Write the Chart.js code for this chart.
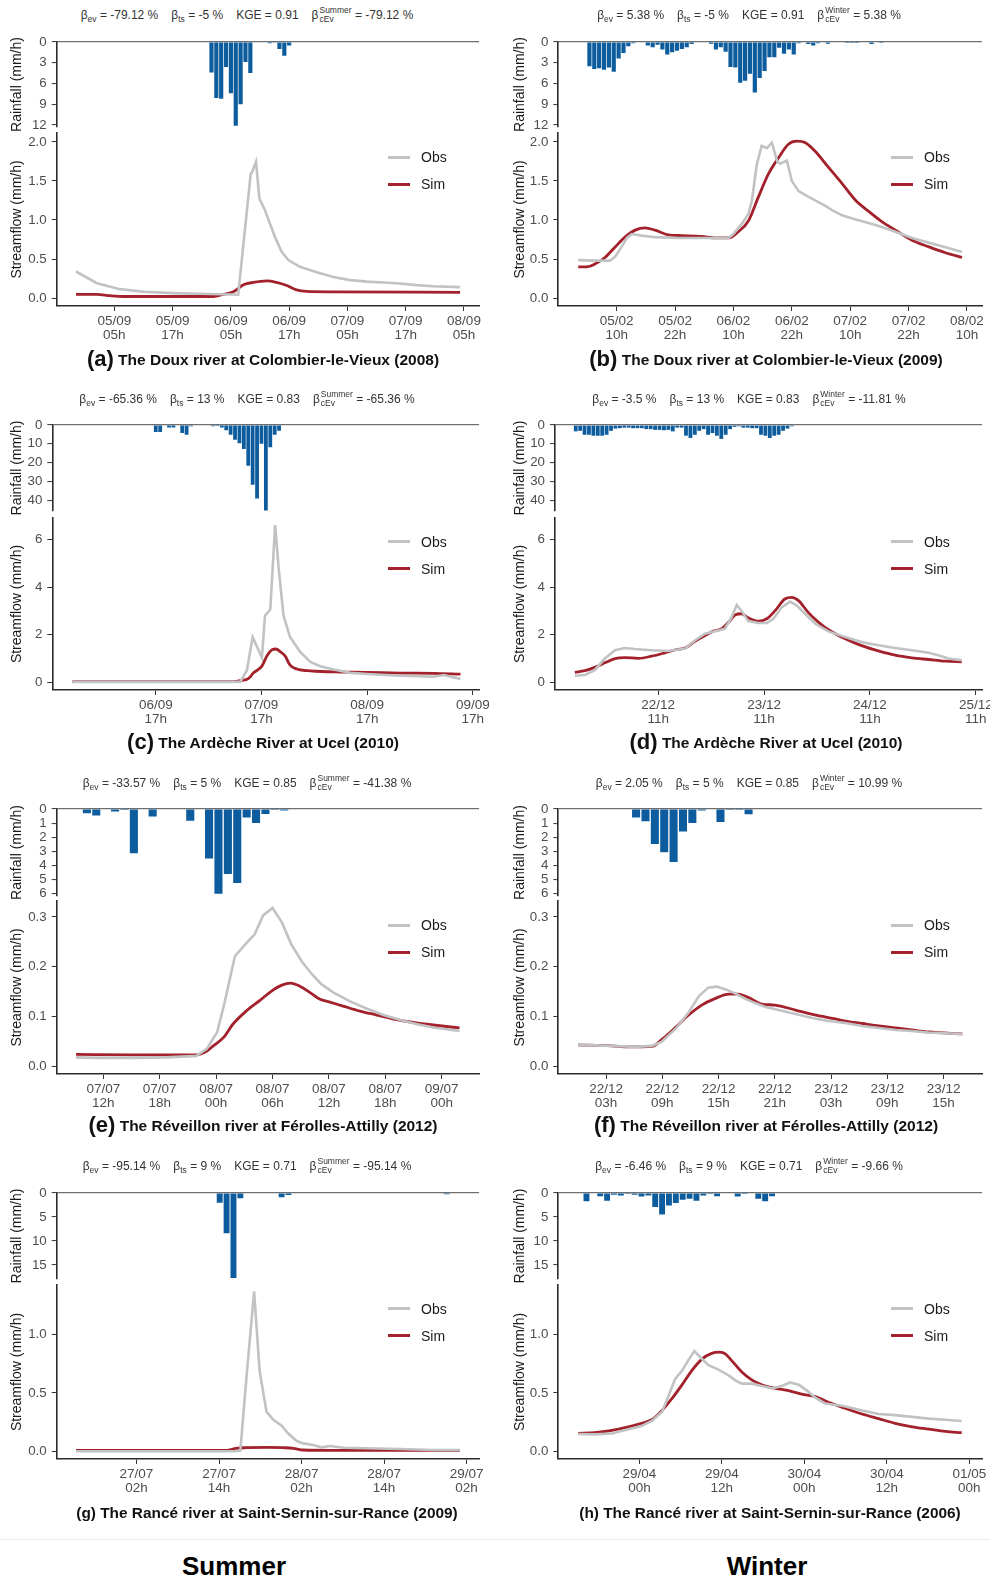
<!DOCTYPE html>
<html><head><meta charset="utf-8">
<script src="https://cdn.jsdelivr.net/npm/chart.js@4.4.1/dist/chart.umd.min.js"></script>
<style>
html,body{margin:0;padding:0;background:#fff}
#wrap{position:relative;width:990px;height:1582px;overflow:hidden;background:#fff;font-family:"Liberation Sans",Arial,sans-serif}
canvas{position:absolute}
.stats{position:absolute;transform:translate(-50%,-50%);font-size:12px;color:#333;white-space:nowrap;line-height:14px}
.stats .it{margin:0 6.5px}
.stats sub{font-size:8.5px;vertical-align:-3px;line-height:0}
.ss{display:inline-block;vertical-align:-3px;font-size:8.5px;line-height:9px;margin-left:1px;text-align:left}
.cap{position:absolute;transform:translate(-50%,-50%);white-space:nowrap;font-weight:bold;font-size:15.5px;color:#111;line-height:24px}
.cap .l{font-size:22px;vertical-align:-1px}
.cap2{position:absolute;transform:translate(-50%,-50%);white-space:nowrap;font-weight:bold;font-size:15.4px;color:#111}
.lg{position:absolute;font-size:14px;color:#1a1a1a;white-space:nowrap;transform:translateY(-50%);line-height:16px}
.lg i{display:inline-block;width:22px;height:3px;vertical-align:middle;margin-right:11px;position:relative;top:-1px}
.season{position:absolute;transform:translateX(-50%);font-weight:bold;font-size:26px;color:#000;white-space:nowrap}
.sep{position:absolute;left:0;width:990px;height:1px;background:#ebebeb}
</style>
</head><body><div id="wrap"></div>
<script>
// ===== DATA (time in hours from first labelled tick) =====
// (a) Doux at Colombier-le-Vieux, 2008
const ticksA = [["05/09","05h"],["05/09","17h"],["06/09","05h"],["06/09","17h"],["07/09","05h"],["07/09","17h"],["08/09","05h"]];
const rainStartA = 20;
const rainA = [4.4,8.1,8.2,3.6,7.4,12.1,9.0,2.9,4.5,0,0,0,0.2,0.1,1.0,2.0,0.5];
const obsA = [[-7.9,0.34],[-3.6,0.19],[1.2,0.114],[6.0,0.08],[12.1,0.063],[17.6,0.055],[24.0,0.045],[25.5,0.042],[28.07,1.586],[28.4,1.62],[29.17,1.746],[29.86,1.277],[31.0,1.129],[33.08,0.782],[34.45,0.592],[35.83,0.486],[38.2,0.40],[41.7,0.33],[45.1,0.27],[48.5,0.23],[52,0.21],[55.4,0.2],[58.8,0.186],[62.2,0.165],[65.7,0.152],[71.2,0.14]];
const simA = [[-7.9,0.047],[-3.6,0.047],[-0.9,0.03],[1.9,0.02],[20.4,0.02],[22.4,0.047],[24.5,0.08],[26.6,0.17],[28.6,0.2],[31.4,0.22],[33.4,0.2],[35.5,0.16],[37.5,0.105],[39.6,0.085],[45.1,0.08],[71.2,0.072]];
const statsA = ["-79.12","-5","0.91","Summer","-79.12"];

// (b) Doux at Colombier-le-Vieux, 2009
const ticksB = [["05/02","10h"],["05/02","22h"],["06/02","10h"],["06/02","22h"],["07/02","10h"],["07/02","22h"],["08/02","10h"]];
const rainStartB = -5.6;
const rainB = [3.5,3.9,3.8,4.0,3.7,4.3,2.4,1.6,0.6,0.2,0,0,0.5,0.75,0.4,1.1,1.8,1.5,1.25,1.0,0.75,0.3,0,0,0,0.25,1.1,0.75,1.4,3.6,3.7,5.9,5.6,4.6,7.3,5.2,4.2,2.2,2.2,0.85,1.7,1.1,1.8,0.2,0,0.3,0.5,0.2,0,0.25,0,0,0,0.15,0.15,0.15,0,0,0.3,0,0.15];
const obsB = [[-7.9,0.486],[-4.5,0.48],[-1.4,0.48],[-0.3,0.53],[1.0,0.655],[2.1,0.77],[3.1,0.82],[5.1,0.80],[7.9,0.78],[12.7,0.77],[18.9,0.77],[23.0,0.77],[24.0,0.82],[25.7,0.95],[27.1,1.08],[27.8,1.25],[28.8,1.71],[29.8,1.95],[30.9,1.92],[31.9,1.99],[33.0,1.75],[33.6,1.72],[35.0,1.76],[36.0,1.50],[37.4,1.37],[38.8,1.32],[40.8,1.25],[42.9,1.18],[44.2,1.13],[46.3,1.06],[49.0,1.01],[51.8,0.96],[54.5,0.91],[57.3,0.85],[60.7,0.77],[64.2,0.71],[67.6,0.65],[71.0,0.59]];
const simB = [[-7.9,0.40],[-6.2,0.40],[-4.5,0.435],[-2.4,0.52],[-0.3,0.655],[1.7,0.78],[3.8,0.87],[5.8,0.90],[7.9,0.87],[10.6,0.81],[13.4,0.80],[17.5,0.79],[20.2,0.77],[23.0,0.77],[25.0,0.85],[27.1,0.99],[29.1,1.29],[31.2,1.59],[33.3,1.80],[35.3,1.97],[37.0,2.01],[38.8,1.99],[40.8,1.88],[43.6,1.67],[46.3,1.47],[49.0,1.26],[51.8,1.11],[54.5,0.98],[57.3,0.87],[60.7,0.74],[64.2,0.655],[67.6,0.58],[71.0,0.52]];
const statsB = ["5.38","-5","0.91","Winter","5.38"];

// (c) Ardèche at Ucel, 2010 (summer)
const ticksC = [["06/09","17h"],["07/09","17h"],["08/09","17h"],["09/09","17h"]];
const rainStartC = 0;
const rainC = [3.7,3.7,0,1.4,1.4,0,4.3,5.2,0.7,0,0,0,0,0.7,0.5,1.4,2.8,5.2,7.8,9.7,12.7,21.7,31.8,39.1,10,45.4,11.8,5.2,3.1];
const obsC = [[-18.9,0.02],[19.2,0.02],[20.7,0.51],[22.0,1.9],[23.0,1.49],[24.1,1.04],[24.8,2.8],[26.0,3.06],[27.1,6.6],[27.9,4.8],[29.0,2.8],[30.5,1.9],[32.8,1.28],[35.1,0.86],[37.3,0.68],[40.4,0.54],[44.2,0.40],[48,0.35],[55.5,0.28],[63.1,0.24],[65.4,0.31],[67.7,0.21],[69.2,0.14]];
const simC = [[-18.9,0.03],[17.7,0.03],[19.2,0.07],[21.1,0.17],[22.2,0.40],[24.1,0.68],[25.2,1.10],[26.4,1.37],[27.3,1.40],[28.3,1.28],[29.4,1.10],[30.5,0.72],[32.0,0.56],[34.3,0.49],[40.4,0.44],[48.0,0.42],[55.5,0.39],[63.1,0.38],[69.2,0.35]];
const statsC = ["-65.36","13","0.83","Summer","-65.36"];

// (d) Ardèche at Ucel, 2010 (winter)
const ticksD = [["22/12","11h"],["23/12","11h"],["24/12","11h"],["25/12","11h"]];
const rainStartD = -18.7;
const rainD = [3.4,3.1,5.2,5.2,5.7,5.7,5.7,5.2,3.1,1.9,1.7,1.4,1.4,1.7,1.7,1.7,2.2,2.2,2.6,2.6,2.8,2.6,3.4,1.4,1.4,5.7,6.9,5.2,3.1,2.2,5.2,4.3,5.7,7.4,5.2,2.2,1.0,0.7,1.4,1.4,1.7,1.7,5.2,5.7,6.9,5.7,5.2,3.1,1.9,0.7];
const obsD = [[-18.9,0.28],[-16.6,0.31],[-14.4,0.51],[-12.1,1.0],[-9.8,1.35],[-7.6,1.44],[-5.3,1.40],[-1.5,1.35],[2.3,1.32],[6.1,1.42],[8.3,1.76],[10.6,2.04],[12.9,2.15],[15.1,2.25],[16.6,2.72],[17.8,3.25],[18.9,3.0],[20.4,2.57],[22.7,2.49],[24.6,2.49],[26.1,2.67],[28.0,3.15],[29.9,3.39],[31.4,3.22],[33.3,2.88],[35.6,2.46],[38.6,2.14],[42.4,1.9],[46.1,1.69],[49.9,1.56],[53.7,1.44],[57.5,1.35],[61.3,1.24],[63.5,1.14],[65.8,1.0],[68.8,0.93]];
const simD = [[-18.9,0.42],[-16.6,0.49],[-14.4,0.63],[-12.1,0.82],[-9.8,1.0],[-7.6,1.04],[-4.5,1.01],[-1.5,1.10],[1.5,1.24],[4.2,1.38],[6.1,1.44],[8.3,1.72],[10.6,1.97],[12.5,2.15],[14.4,2.25],[16.3,2.6],[17.4,2.83],[18.9,2.88],[20.4,2.71],[22.7,2.57],[24.6,2.67],[26.5,3.01],[28.7,3.5],[30.3,3.57],[31.8,3.43],[34.0,2.94],[36.3,2.53],[38.6,2.21],[42.4,1.83],[46.1,1.54],[49.9,1.32],[53.7,1.14],[57.5,1.03],[61.3,0.96],[65.1,0.89],[68.8,0.86]];
const statsD = ["-3.5","13","0.83","Winter","-11.81"];

// (e) Réveillon at Férolles-Attilly, 2012 (summer)
const ticksE = [["07/07","12h"],["07/07","18h"],["08/07","00h"],["08/07","06h"],["08/07","12h"],["08/07","18h"],["09/07","00h"]];
const rainStartE = -1.75;
const rainE = [0.3,0.46,0,0.18,0.07,3.13,0,0.53,0,0,0,0.83,0,3.5,6.0,4.6,5.24,0.6,1.0,0.35,0.07,0.1];
const obsE = [[-2.9,0.018],[-0.35,0.017],[3.2,0.017],[6.7,0.018],[9.9,0.021],[11.0,0.035],[12.1,0.068],[12.9,0.128],[14.0,0.221],[15.1,0.245],[16.1,0.265],[17.0,0.303],[18.0,0.318],[19.0,0.289],[20.0,0.245],[21.1,0.211],[22.2,0.185],[23.2,0.165],[24.5,0.148],[26.2,0.131],[28.0,0.116],[29.8,0.103],[31.6,0.093],[33.3,0.085],[35.1,0.078],[37.9,0.071]];
const simE = [[-2.9,0.024],[3.2,0.023],[9.9,0.023],[10.8,0.028],[11.7,0.041],[12.8,0.058],[13.8,0.085],[15.2,0.111],[16.7,0.133],[17.9,0.151],[19.0,0.163],[19.9,0.167],[20.9,0.161],[22.0,0.148],[23.0,0.135],[24.1,0.129],[25.5,0.121],[27.3,0.111],[29.1,0.103],[30.9,0.095],[33.0,0.088],[35.1,0.083],[37.9,0.077]];
const statsE = ["-33.57","5","0.85","Summer","-41.38"];

// (f) Réveillon at Férolles-Attilly, 2012 (winter)
const ticksF = [["22/12","03h"],["22/12","09h"],["22/12","15h"],["22/12","21h"],["23/12","03h"],["23/12","09h"],["23/12","15h"]];
const rainStartF = 3.2;
const rainF = [0.6,0.87,2.48,3.06,3.75,1.6,1.0,0.11,0,0.92,0.07,0.07,0.37];
const obsF = [[-3.0,0.043],[0.6,0.041],[3.1,0.039],[4.9,0.041],[5.9,0.049],[7.4,0.075],[8.8,0.108],[9.9,0.141],[10.9,0.158],[11.8,0.16],[12.7,0.155],[13.8,0.146],[14.8,0.136],[15.9,0.127],[17.0,0.119],[18.4,0.113],[20.2,0.105],[22.0,0.097],[23.7,0.091],[25.5,0.087],[27.3,0.081],[29.1,0.077],[30.9,0.073],[32.6,0.071],[34.4,0.068],[38.0,0.065]];
const simF = [[-3.0,0.043],[0.6,0.041],[2.4,0.039],[4.9,0.04],[5.9,0.053],[7.4,0.078],[8.8,0.103],[10.2,0.123],[11.6,0.136],[13.1,0.145],[14.1,0.145],[15.2,0.138],[16.6,0.125],[18.0,0.123],[20.2,0.113],[21.9,0.105],[23.7,0.098],[25.5,0.091],[27.3,0.086],[29.1,0.081],[30.9,0.077],[32.6,0.073],[34.4,0.069],[38.0,0.065]];
const statsF = ["2.05","5","0.85","Winter","10.99"];

// (g) Rancé at Saint-Sernin-sur-Rance, 2009 (summer)
const ticksG = [["27/07","02h"],["27/07","14h"],["28/07","02h"],["28/07","14h"],["29/07","02h"]];
const rainStartG = 12.1;
const rainG = [2.05,8.4,17.7,1.1,0,0,0,0,0,0.9,0.4,0,0,0,0,0,0,0,0,0,0,0,0,0,0,0,0,0,0,0,0,0,0,0.27];
const obsG = [[-8.8,0],[14.1,0],[15.1,0.006],[16.0,0.64],[17.1,1.37],[17.9,0.69],[18.9,0.34],[19.9,0.27],[21.1,0.22],[22.1,0.15],[23.3,0.088],[24.2,0.068],[25.7,0.054],[26.9,0.034],[28.1,0.045],[30.1,0.031],[33.4,0.026],[38.3,0.02],[43.1,0.011],[47.0,0.011]];
const simG = [[-8.8,0.008],[13.1,0.008],[14.5,0.026],[16.0,0.031],[18.9,0.034],[21.3,0.031],[22.8,0.026],[24.2,0.011],[28.6,0.008],[47.0,0.008]];
const statsG = ["-95.14","9","0.71","Summer","-95.14"];

// (h) Rancé at Saint-Sernin-sur-Rance, 2006 (winter)
const ticksH = [["29/04","00h"],["29/04","12h"],["30/04","00h"],["30/04","12h"],["01/05","00h"]];
const rainStartH = -7.7;
const rainH = [1.7,0,0.7,1.6,0.35,0.55,0.2,0.35,0.75,0.55,2.9,4.5,2.6,2.1,1.4,1.2,1.6,0.55,0.2,0.7,0,0,0.75,0.2,0,1.2,1.7,0.7];
const obsH = [[-8.9,0.148],[-6.5,0.145],[-4.0,0.153],[-1.6,0.19],[0.3,0.216],[1.8,0.26],[3.3,0.34],[4.2,0.47],[5.2,0.62],[6.2,0.69],[7.1,0.78],[8.0,0.86],[8.8,0.81],[10.0,0.74],[11.5,0.70],[13.0,0.65],[13.9,0.61],[14.9,0.58],[16.4,0.58],[17.8,0.56],[19.3,0.54],[20.7,0.56],[21.9,0.59],[23.2,0.57],[24.4,0.52],[25.6,0.46],[27.0,0.41],[29.5,0.39],[32.4,0.35],[34.8,0.32],[37.2,0.31],[39.7,0.295],[42.1,0.28],[44.5,0.27],[46.9,0.26]];
const simH = [[-8.9,0.153],[-6.5,0.16],[-4.0,0.18],[-1.6,0.21],[0.3,0.24],[1.8,0.27],[3.3,0.35],[4.7,0.45],[6.2,0.57],[7.6,0.69],[9.1,0.79],[10.5,0.84],[11.7,0.85],[12.5,0.835],[13.4,0.78],[14.9,0.68],[16.4,0.61],[17.8,0.57],[19.8,0.54],[21.7,0.52],[23.6,0.49],[25.6,0.47],[27.5,0.42],[29.9,0.37],[32.4,0.32],[34.8,0.28],[37.2,0.24],[39.7,0.21],[42.1,0.19],[44.5,0.17],[46.9,0.16]];
const statsH = ["-6.46","9","0.71","Winter","-9.66"];

// axis tick values
const rainTicks12 = [0,3,6,9,12], rainTicks40 = [0,10,20,30,40], rainTicks6 = [0,1,2,3,4,5,6], rainTicks15 = [0,5,10,15];
const qTicks2 = [0,0.5,1,1.5,2], qTicks6 = [0,2,4,6], qTicks03 = [0,0.1,0.2,0.3], qTicks1 = [0,0.5,1];

// ===== LAYOUT =====
const colX = [0, 495];
const rows = [
  {stats:15,   rain0:41,    rainBot:128,   flowTop:132,   axis:306,    cap:359,    rainMax:12.29, qmin:-0.102, qmax:2.115, rainTicks:rainTicks12, qTicks:qTicks2, qDec:1},
  {stats:399,  rain0:424,   rainBot:511.7, flowTop:516.7, axis:690,    cap:741.7,  rainMax:45.7,  qmin:-0.32,  qmax:6.9,   rainTicks:rainTicks40, qTicks:qTicks6, qDec:0},
  {stats:782.7,rain0:807.7, rainBot:897,   flowTop:900,   axis:1073.7, cap:1124.7, rainMax:6.16,  qmin:-0.0154,qmax:0.332, rainTicks:rainTicks6,  qTicks:qTicks03, qDec:1},
  {stats:1166.3,rain0:1192, rainBot:1279.7,flowTop:1283.7,axis:1458.7, cap:1513,   rainMax:17.9,  qmin:-0.066, qmax:1.426, rainTicks:rainTicks15, qTicks:qTicks1, qDec:1}
];
const panels = [
  {row:0,col:0,plotL:56.7, plotR:479,  xmin:-11.87,xmax:75.09,step:12,ticks:ticksA,rain:rainA,rs:rainStartA,obs:obsA,sim:simA,stats:statsA,lab:"(a)",cap:"The Doux river at Colombier-le-Vieux (2008)"},
  {row:0,col:1,plotL:558.3,plotR:981.7,xmin:-12.0, xmax:75.1, step:12,ticks:ticksB,rain:rainB,rs:rainStartB,obs:obsB,sim:simB,stats:statsB,lab:"(b)",cap:"The Doux river at Colombier-le-Vieux (2009)"},
  {row:1,col:0,plotL:52.3, plotR:479,  xmin:-23.5, xmax:73.4, step:24,ticks:ticksC,rain:rainC,rs:rainStartC,obs:obsC,sim:simC,stats:statsC,lab:"(c)",cap:"The Ardèche River at Ucel (2010)"},
  {row:1,col:1,plotL:555,  plotR:981.7,xmin:-23.4, xmax:73.4, step:24,ticks:ticksD,rain:rainD,rs:rainStartD,obs:obsD,sim:simD,stats:statsD,lab:"(d)",cap:"The Ardèche River at Ucel (2010)"},
  {row:2,col:0,plotL:56.7, plotR:479,  xmin:-4.96, xmax:39.97,step:6, ticks:ticksE,rain:rainE,rs:rainStartE,obs:obsE,sim:simE,stats:statsE,lab:"(e)",cap:"The Réveillon river at Férolles-Attilly (2012)"},
  {row:2,col:1,plotL:558.3,plotR:981.7,xmin:-5.1,  xmax:40.1, step:6, ticks:ticksF,rain:rainF,rs:rainStartF,obs:obsF,sim:simF,stats:statsF,lab:"(f)",cap:"The Réveillon river at Férolles-Attilly (2012)"},
  {row:3,col:0,plotL:56.7, plotR:479,  xmin:-11.6, xmax:49.8, step:12,ticks:ticksG,rain:rainG,rs:rainStartG,obs:obsG,sim:simG,stats:statsG,lab:"(g)",cap:"The Rancé river at Saint-Sernin-sur-Rance (2009)",small:true},
  {row:3,col:1,plotL:558.3,plotR:981.7,xmin:-11.8, xmax:49.85,step:12,ticks:ticksH,rain:rainH,rs:rainStartH,obs:obsH,sim:simH,stats:statsH,lab:"(h)",cap:"The Rancé river at Saint-Sernin-sur-Rance (2006)",small:true}
];
const statsCX = [247, 749], capCX = [263, 766], legX = [388, 891], titleX = [17, 520];

const OBS_COL = '#c0c2c4', SIM_COL = '#a3212a', BAR_COL = '#0c5c9e';
const FONT = '"Liberation Sans", Arial, sans-serif';
Chart.defaults.font.family = FONT;
const wrap = document.getElementById('wrap');

function addCanvas(left, top, w, h) {
  const c = document.createElement('canvas');
  c.width = w; c.height = h;
  c.style.left = left + 'px'; c.style.top = top + 'px';
  c.style.width = w + 'px'; c.style.height = h + 'px';
  wrap.appendChild(c);
  return c;
}
function el(cls, html, left, top) {
  const d = document.createElement('div');
  d.className = cls; d.innerHTML = html;
  d.style.left = left + 'px'; d.style.top = top + 'px';
  wrap.appendChild(d); return d;
}

const padR = 28, padT = 12;
panels.forEach(p => {
  const g = rows[p.row];
  const cx = colX[p.col];
  const cw = Math.round(p.plotR + padR - cx);
  const yw = p.plotL - cx;
  const tPad = titleX[p.col] - cx - 8.4;
  const yTitle = (text) => ({display:true, text, color:'#1a1a1a', font:{size:14, family:FONT}, padding:{top:tPad, bottom:0}});
  const yTick = {color:'#4d4d4d', font:{size:13.3, family:FONT}, padding:5, autoSkip:false};
  const axisBorder = {display:true, color:'#2b2b2b', width:1.6};

  // ---- rainfall (inverted bars) ----
  const rc = addCanvas(cx, g.rain0 - padT, cw, Math.round(g.rainBot - g.rain0) + 2*padT);
  new Chart(rc, {
    type:'bar',
    data:{datasets:[{
      data:p.rain.map((v,i)=>({x:p.rs + i, y:v})),
      backgroundColor:BAR_COL, borderWidth:0, barPercentage:0.86, categoryPercentage:1
    }]},
    options:{
      responsive:false, animation:false, events:[], devicePixelRatio:1,
      layout:{padding:{top:padT, bottom:padT, left:0, right:padR}},
      plugins:{legend:{display:false}, tooltip:{enabled:false}},
      scales:{
        x:{type:'linear', display:false, min:p.xmin, max:p.xmax, offset:false, grid:{offset:false}},
        y:{type:'linear', reverse:true, min:0, max:g.rainMax,
           afterFit:s=>{s.width = yw;},
           afterBuildTicks:s=>{s.ticks = g.rainTicks.map(v=>({value:v}));},
           ticks:Object.assign({}, yTick, {callback:v=>String(v)}),
           grid:{drawOnChartArea:true, drawTicks:true, tickLength:5, tickColor:'#333', tickWidth:1,
                 color:c=>(c.tick && c.tick.value===0) ? '#6f6f6f' : 'rgba(0,0,0,0)', lineWidth:1.2},
           border:axisBorder,
           title:yTitle('Rainfall (mm/h)')}
      }
    }
  });

  // ---- streamflow lines ----
  const xAxisH = 52;
  const fc = addCanvas(cx, g.flowTop - padT, cw, Math.round(g.axis - g.flowTop) + padT + xAxisH);
  new Chart(fc, {
    type:'line',
    data:{datasets:[
      {label:'Obs', data:p.obs.map(([x,y])=>({x,y})), borderColor:OBS_COL, borderWidth:2.6, pointRadius:0, tension:0, fill:false},
      {label:'Sim', data:p.sim.map(([x,y])=>({x,y})), borderColor:SIM_COL, borderWidth:2.8, pointRadius:0, cubicInterpolationMode:'monotone', fill:false}
    ]},
    options:{
      responsive:false, animation:false, events:[], devicePixelRatio:1,
      layout:{padding:{top:padT, bottom:0, left:0, right:padR}},
      plugins:{legend:{display:false}, tooltip:{enabled:false}},
      scales:{
        x:{type:'linear', min:p.xmin, max:p.xmax,
           afterFit:s=>{s.height = xAxisH;},
           afterBuildTicks:s=>{s.ticks = p.ticks.map((_,i)=>({value:i*p.step}));},
           ticks:{color:'#4d4d4d', font:{size:13.5, family:FONT, lineHeight:1.05}, padding:3, autoSkip:false, maxRotation:0, minRotation:0,
                  callback:(v,i)=>p.ticks[i]},
           grid:{drawOnChartArea:false, drawTicks:true, tickLength:5, tickColor:'#333', tickWidth:1},
           border:axisBorder},
        y:{type:'linear', min:g.qmin, max:g.qmax,
           afterFit:s=>{s.width = yw;},
           afterBuildTicks:s=>{s.ticks = g.qTicks.map(v=>({value:v}));},
           ticks:Object.assign({}, yTick, {callback:v=>Number(v).toFixed(g.qDec)}),
           grid:{drawOnChartArea:false, drawTicks:true, tickLength:5, tickColor:'#333', tickWidth:1},
           border:axisBorder,
           title:yTitle('Streamflow (mm/h)')}
      }
    }
  });

  // ---- texts ----
  const s = p.stats;
  el('stats',
    `<span class="it">β<sub>ev</sub> = ${s[0]} %</span><span class="it">β<sub>ts</sub> = ${s[1]} %</span><span class="it">KGE = ${s[2]}</span><span class="it">β<span class="ss">${s[3]}<br>cEv</span> = ${s[4]} %</span>`,
    statsCX[p.col], g.stats);
  if (p.small) {
    el('cap2', `${p.lab} ${p.cap}`, capCX[p.col] + 4, g.cap);
  } else {
    el('cap', `<span class="l">${p.lab}</span> ${p.cap}`, capCX[p.col], g.cap);
  }
  el('lg', `<i style="background:${OBS_COL}"></i>Obs`, legX[p.col], g.flowTop + 25);
  el('lg', `<i style="background:${SIM_COL}"></i>Sim`, legX[p.col], g.flowTop + 52);
});

el('sep', '', 0, 1539);
el('season', 'Summer', 234, 1551);
el('season', 'Winter', 767, 1551);
</script>
</body></html>
